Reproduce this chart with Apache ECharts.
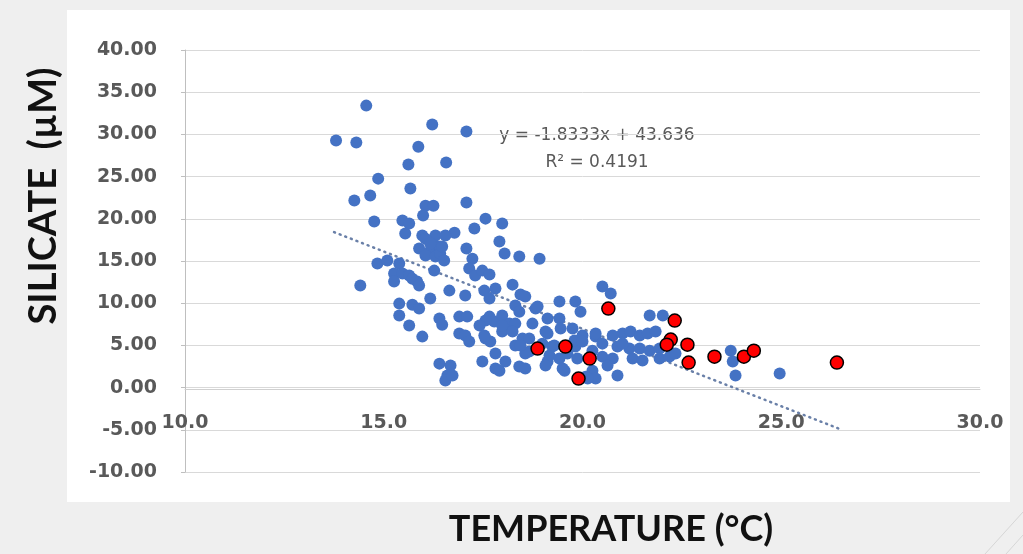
<!DOCTYPE html>
<html>
<head>
<meta charset="utf-8">
<script src="https://cdn.jsdelivr.net/npm/echarts@6/dist/echarts.min.js"></script>
<style>
html,body{margin:0;padding:0;background:#efefef;overflow:hidden;}
.panel{position:absolute;left:67px;top:10px;width:943px;height:492px;background:#fff;}
#silicate{position:absolute;left:0;top:0;width:1023px;height:554px;}
</style>
</head>
<body>
<div class="panel"></div>
<div id="silicate"></div>
<script>
// blue samples: temperature (°C) and silicate (µM)
var tempBlue = [
  13.80,14.31,14.56,16.22,17.08,15.87,15.62,16.57,14.86,15.67,14.26,14.66,16.05,16.25,15.99,17.08,
  17.56,17.98,14.76,15.47,15.64,17.28,16.78,15.54,15.97,16.30,16.55,16.05,17.91,16.30,15.89,16.15,
  16.40,16.05,16.30,17.08,17.23,18.04,18.41,18.92,17.15,17.30,17.48,17.66,14.84,15.09,15.39,16.27,
  15.26,15.47,15.64,15.84,15.26,15.72,14.41,15.89,16.65,17.05,17.53,17.81,18.24,18.44,18.56,17.66,
  18.31,18.41,16.17,15.39,15.72,15.89,15.39,18.82,19.12,16.40,16.47,16.90,17.10,17.66,17.78,17.56,
  17.98,18.16,18.31,17.41,15.64,15.97,16.90,17.05,17.15,17.56,17.68,18.31,18.49,18.66,19.12,19.12,
  17.81,17.48,17.81,17.91,18.41,16.40,16.68,16.60,16.55,19.42,19.82,19.95,18.87,19.42,19.45,17.98,
  17.53,19.75,20.00,20.33,19.24,18.56,19.17,19.82,19.42,16.73,18.56,19.07,19.55,20.25,20.08,20.50,
  20.71,21.69,22.02,19.07,17.98,18.24,18.66,18.44,19.29,19.80,20.00,20.33,20.50,20.76,21.01,21.21,
  21.44,21.64,21.84,20.88,21.18,21.44,21.69,21.94,21.26,21.51,21.94,20.50,20.76,18.06,19.50,20.33,
  20.13,20.88,22.19,22.34,23.73,23.78,23.85,24.96,16.17,16.42,16.52,19.62,20.25,20.63,21.01,19.87,
  18.74,18.99,16.47
];
var silBlue = [
  29.27,29.03,33.41,31.16,30.33,28.55,26.42,26.66,24.76,23.58,22.16,22.75,21.56,21.56,20.38,21.92,
  20.02,19.43,19.67,19.79,19.43,18.84,18.36,18.25,18.01,18.01,18.01,17.65,17.30,16.82,16.47,16.11,
  16.71,15.64,15.52,16.47,15.28,15.88,15.52,15.28,14.10,13.27,13.86,13.39,14.69,15.05,14.69,13.86,
  13.51,13.51,13.27,12.56,12.56,12.91,12.09,12.09,11.49,10.90,11.49,11.73,12.20,11.02,10.78,10.55,
  9.72,9.00,10.55,9.95,9.83,9.36,8.53,9.36,8.18,8.18,7.46,8.41,8.41,8.41,7.82,7.94,
  8.53,7.58,7.58,7.35,7.35,6.04,6.40,6.16,5.45,5.81,5.45,4.98,5.81,4.27,6.40,3.08,
  4.03,3.08,2.25,2.01,2.49,2.84,2.61,1.42,0.83,10.19,10.19,9.00,9.60,8.18,6.99,6.64,
  6.16,6.99,6.16,6.04,4.86,4.03,3.79,4.86,3.44,1.42,2.25,2.61,2.01,2.01,1.30,11.97,
  11.14,8.53,8.53,6.64,7.35,6.64,5.81,4.98,4.98,5.57,5.45,6.40,5.21,6.16,6.40,6.64,
  6.16,6.40,6.64,4.86,4.62,4.62,4.38,4.62,3.44,3.20,3.44,3.67,3.44,3.08,2.25,1.07,
  1.07,1.42,3.67,4.03,4.38,3.08,1.42,1.66,17.06,15.88,15.05,4.03,4.38,2.61,5.21,3.44,
  7.58,5.21,16.71
];
// red samples
var tempRed = [18.87,19.57,20.18,19.90,20.65,22.32,22.22,22.12,22.64,22.67,23.32,24.06,24.31,26.40];
var silRed  = [4.62,4.86,3.44,1.07,9.36,7.94,5.69,5.09,5.09,2.96,3.67,3.67,4.38,2.96];
// linear trendline end points (y = -1.8333x + 43.636)
var trendTemp = [13.75, 26.45];
var trendSil = [18.42, -4.86];
var trendText = ['y = -1.8333x + 43.636', 'R² = 0.4191'];

function pairs(xs, ys) {
  var out = [];
  for (var i = 0; i < xs.length; i++) out.push([xs[i], ys[i]]);
  return out;
}

var chart = echarts.init(document.getElementById('silicate'));
var labelFont = {color: '#595959', fontFamily: 'DejaVu Sans', fontWeight: 'bold', fontSize: 19};

chart.setOption({
  animation: false,
  backgroundColor: 'transparent',
  grid: {left: 185, right: 43, top: 50, bottom: 82},
  xAxis: {
    type: 'value', min: 10, max: 30, interval: 5,
    position: 'bottom', offset: -83,   // sits on the 0.00 line
    axisLine: {onZero: false, lineStyle: {color: '#d0d0d0', width: 1}},
    axisTick: {show: false},
    splitLine: {show: false},
    axisLabel: Object.assign({margin: 25, showMinLabel: true, showMaxLabel: true,
      formatter: function (v) { return v.toFixed(1); }}, labelFont)
  },
  yAxis: {
    type: 'value', min: -10, max: 40, interval: 5,
    axisLine: {show: true, lineStyle: {color: '#bfbfbf'}},
    axisTick: {show: true, length: 4, lineStyle: {color: '#bfbfbf'}},
    splitLine: {lineStyle: {color: '#d9d9d9', width: 1}},
    axisLabel: Object.assign({margin: 28,
      formatter: function (v) { return v.toFixed(2); }}, labelFont)
  },
  series: [
    {
      type: 'line', data: pairs(trendTemp, trendSil), showSymbol: false, silent: true, z: 1,
      lineStyle: {color: '#6a80a8', width: 2.5, type: [1, 5], cap: 'round'}
    },
    {
      type: 'scatter', data: pairs(tempBlue, silBlue), symbolSize: 12, z: 2,
      itemStyle: {color: '#4472c4', opacity: 1}
    },
    {
      type: 'scatter', data: pairs(tempRed, silRed), symbolSize: 13, z: 3,
      itemStyle: {color: '#ff0000', borderColor: '#000', borderWidth: 1.5, opacity: 1}
    }
  ],
  graphic: [
    {type: 'text', x: 597, y: 136, style: {text: trendText[0], fill: '#595959',
      font: '17px "DejaVu Sans"', textAlign: 'center', textVerticalAlign: 'middle'}},
    {type: 'text', x: 597, y: 163, style: {text: trendText[1], fill: '#595959',
      font: '17px "DejaVu Sans"', textAlign: 'center', textVerticalAlign: 'middle'}},
    {type: 'text', x: 44, y: 196, rotation: Math.PI / 2, style: {text: 'SILICATE  (µM)', fill: '#111',
      font: 'bold 38px Lato', textAlign: 'center', textVerticalAlign: 'middle'}},
    {type: 'text', x: 611, y: 529, style: {text: 'TEMPERATURE (°C)', fill: '#111',
      font: 'bold 36px Lato', textAlign: 'center', textVerticalAlign: 'middle'}},
    {type: 'line', shape: {x1: 985, y1: 554, x2: 1023, y2: 512}, style: {stroke: '#d6d6d6', lineWidth: 1}},
    {type: 'line', shape: {x1: 1006, y1: 554, x2: 1023, y2: 535}, style: {stroke: '#d6d6d6', lineWidth: 1}}
  ]
});
</script>
</body>
</html>
